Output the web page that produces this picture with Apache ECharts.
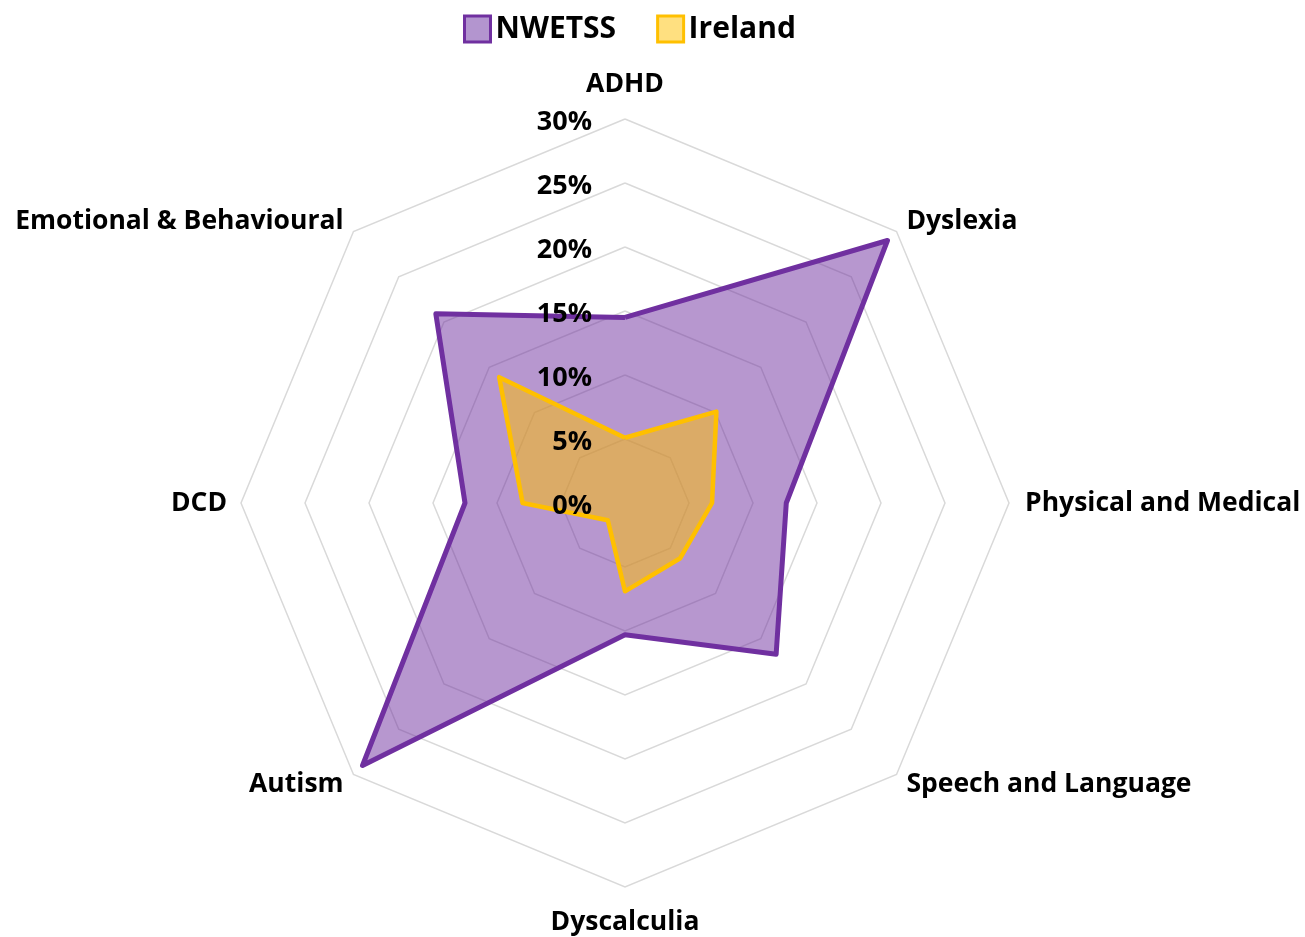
<!DOCTYPE html>
<html><head><meta charset="utf-8">
<script src="https://cdn.jsdelivr.net/npm/echarts@6/dist/echarts.min.js"></script>
<style>html,body{margin:0;padding:0;background:#fff}#c{width:1305px;height:937px}</style>
</head><body><div id="c"></div>
<script>
// categories in clockwise order starting from the top
const categories = ['ADHD','Dyslexia','Physical and Medical','Speech and Language','Dyscalculia','Autism','DCD','Emotional & Behavioural'];
const nwetss = [14.5, 29.0, 12.6, 16.7, 10.3, 29.0, 12.5, 20.9];
const ireland = [5.1, 10.1, 6.8, 6.1, 6.9, 1.9, 8.0, 13.9];
const axisMax = 30;
const axisStep = 5;

// ECharts lays indicators out counter-clockwise; reorder so they run clockwise
const order = [0, 7, 6, 5, 4, 3, 2, 1];
const nameGaps = {0: 21, 4: 22, 2: 16};

const FONT = 'Open Sans';
const CENTER = [625, 503];
const RADIUS = 384;
const chart = echarts.init(document.getElementById('c'));
chart.setOption({
  animation: false,
  legend: {
    top: 9, left: 458,
    itemWidth: 26, itemHeight: 26, itemGap: 40,
    textStyle: {fontFamily: FONT, fontWeight: 'bold', fontSize: 30, color: '#000'},
    data: [
      {name: 'NWETSS', icon: 'rect', itemStyle: {color: '#B395CF', borderColor: '#7030A0', borderWidth: 3}},
      {name: 'Ireland', icon: 'rect', itemStyle: {color: '#FFE080', borderColor: '#FFC000', borderWidth: 3}}
    ]
  },
  radar: [{
    center: CENTER,
    radius: RADIUS,
    startAngle: 90,
    shape: 'polygon',
    splitNumber: axisMax / axisStep,
    axisName: {fontFamily: FONT, fontWeight: 'bold', fontSize: 26.5, color: '#000'},
    nameGap: 14,
    axisLine: {show: false},
    splitArea: {show: false},
    splitLine: {lineStyle: {color: '#D9D9D9', width: 1.5}},
    axisLabel: {show: false},
    indicator: order.map(i => {
      const o = {name: categories[i], min: 0, max: axisMax};
      if (nameGaps[i] !== undefined) o.nameGap = nameGaps[i];
      return o;
    })
  }, {
    // overlay radar carrying only the value labels, drawn above the series
    z: 10,
    center: CENTER,
    radius: RADIUS,
    startAngle: 90,
    shape: 'polygon',
    splitNumber: axisMax / axisStep,
    axisName: {show: false},
    axisLine: {show: false},
    splitArea: {show: false},
    splitLine: {show: false},
    axisLabel: {show: false},
    indicator: order.map((i, k) => ({
      name: categories[i], min: 0, max: axisMax,
      axisLabel: k === 0 ? {show: true, margin: 33, color: '#000',
        formatter: v => '{a|' + v + '%}',
        rich: {a: {fontFamily: FONT, fontWeight: 'bold', fontSize: 27, color: '#000', padding: [6, 0, 0, 0]}}
      } : {show: false}
    }))
  }],
  series: [{
    type: 'radar',
    radarIndex: 0,
    symbol: 'none',
    data: [
      {name: 'NWETSS', value: order.map(i => nwetss[i]),
       lineStyle: {color: '#7030A0', width: 5},
       areaStyle: {color: '#7030A0', opacity: 0.5},
       itemStyle: {color: '#7030A0'}},
      {name: 'Ireland', value: order.map(i => ireland[i]),
       lineStyle: {color: '#FFC000', width: 4.5},
       areaStyle: {color: '#FFC000', opacity: 0.5},
       itemStyle: {color: '#FFC000'}}
    ]
  }]
});
</script></body></html>
